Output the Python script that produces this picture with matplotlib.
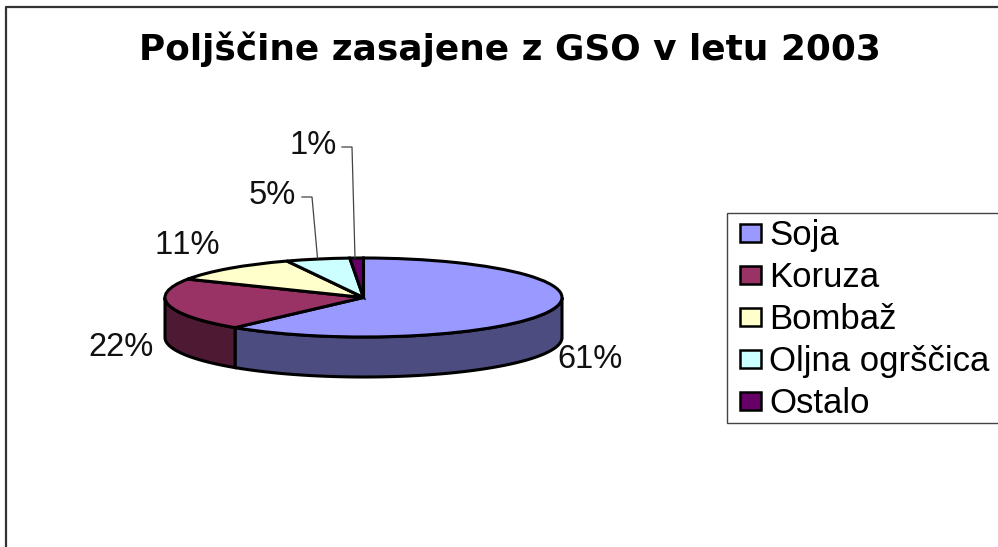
import numpy as np
import matplotlib
matplotlib.use("Agg")
import matplotlib.pyplot as plt
from matplotlib.lines import Line2D
from matplotlib.patches import Rectangle

categories = ["Soja", "Koruza", "Bombaž", "Oljna ogrščica", "Ostalo"]
shares = [61.2, 21.5, 11.0, 5.2, 1.1]
percent_labels = ["61%", "22%", "11%", "5%", "1%"]
colors = ["#9999FF", "#993366", "#FFFFCC", "#CCFFFF", "#660066"]
wall_colors = ["#4C4C80", "#4D1933", "#80805F", "#668080", "#330033"]

W, H = 998, 547
plt.rcParams["font.family"] = ["Liberation Sans", "DejaVu Sans"]
plt.rcParams["text.kerning_factor"] = 8


def px(x, y):
    # reference pixels to figure fraction
    return x / W, 1 - y / H


fig = plt.figure(figsize=(W / 100, H / 100), dpi=100)

# top face is squashed into an ellipse by letting the axes stretch freely
left, right, top, bottom = 165, 562, 258, 337
ax = fig.add_axes([left / W, 1 - bottom / H, (right - left) / W, (bottom - top) / H])
wedges, _ = ax.pie(
    shares,
    colors=colors,
    startangle=90,
    counterclock=False,
    radius=1,
    wedgeprops={"edgecolor": "black", "linewidth": 2.2, "zorder": 3},
)
ax.set_aspect("auto")
ax.set_xlim(-1, 1)
ax.set_ylim(-1, 1)
ax.set_axis_off()

# side wall, only the front half (90..270 deg clockwise from the top) shows
depth = 40 / ((bottom - top) / 2)
ends = np.cumsum(shares) * 3.6
starts = ends - np.array(shares) * 3.6
for a, b, c in zip(starts, ends, wall_colors):
    a, b = max(a, 90), min(b, 270)
    if a >= b:
        continue
    t = np.radians(np.linspace(a, b, 80))
    x = np.sin(t)
    y = np.cos(t)
    ax.fill(
        np.concatenate([x, x[::-1]]),
        np.concatenate([y, y[::-1] - depth]),
        facecolor=c,
        edgecolor="black",
        linewidth=2.2,
        zorder=1,
        clip_on=False,
    )
for w in wedges:
    w.set_clip_on(False)

label_pos = [(590, 360), (121, 348), (187, 246), (272, 196), (313, 146)]
for txt, (x, y) in zip(percent_labels, label_pos):
    fig.text(*px(x, y), txt, fontsize=23.5, ha="center", va="center", color="#111111")

# leader lines of the two small slices
for xs, ys in [([302, 312, 317.5], [197, 197, 258]), ([342, 352, 355], [147, 147, 258])]:
    fx, fy = zip(*[px(a, b) for a, b in zip(xs, ys)])
    fig.add_artist(Line2D(fx, fy, color="#444444", linewidth=0.9))

# the reference title is wider than Arial bold, DejaVu bold gets width and height right
fig.text(*px(510, 49), "Poljščine zasajene z GSO v letu 2003",
         fontsize=25.8, fontweight="bold", family="DejaVu Sans",
         ha="center", va="center", color="black")

# chart border runs off the right and bottom of the picture
fx, fy = zip(*[px(a, b) for a, b in [(6, H + 5), (6, 7), (W + 5, 7)]])
fig.add_artist(Line2D(fx, fy, color="#333333", linewidth=1.6))

# legend box also runs off the right side
fig.add_artist(Rectangle(px(727, 423), 285 / W, 210 / H, transform=fig.transFigure,
                         facecolor="white", edgecolor="#444444", linewidth=1.0))
leg = fig.legend(
    wedges,
    categories,
    loc="upper left",
    bbox_to_anchor=px(727, 206),
    bbox_transform=fig.transFigure,
    fontsize=25,
    frameon=False,
    borderpad=0.38,
    borderaxespad=0,
    handlelength=0.59,
    handleheight=0.41,
    handletextpad=0.25,
    labelspacing=0.26,
)
for h in leg.legend_handles:
    h.set_linewidth(1.8)

fig.savefig("out.png", dpi=100, facecolor="white")
